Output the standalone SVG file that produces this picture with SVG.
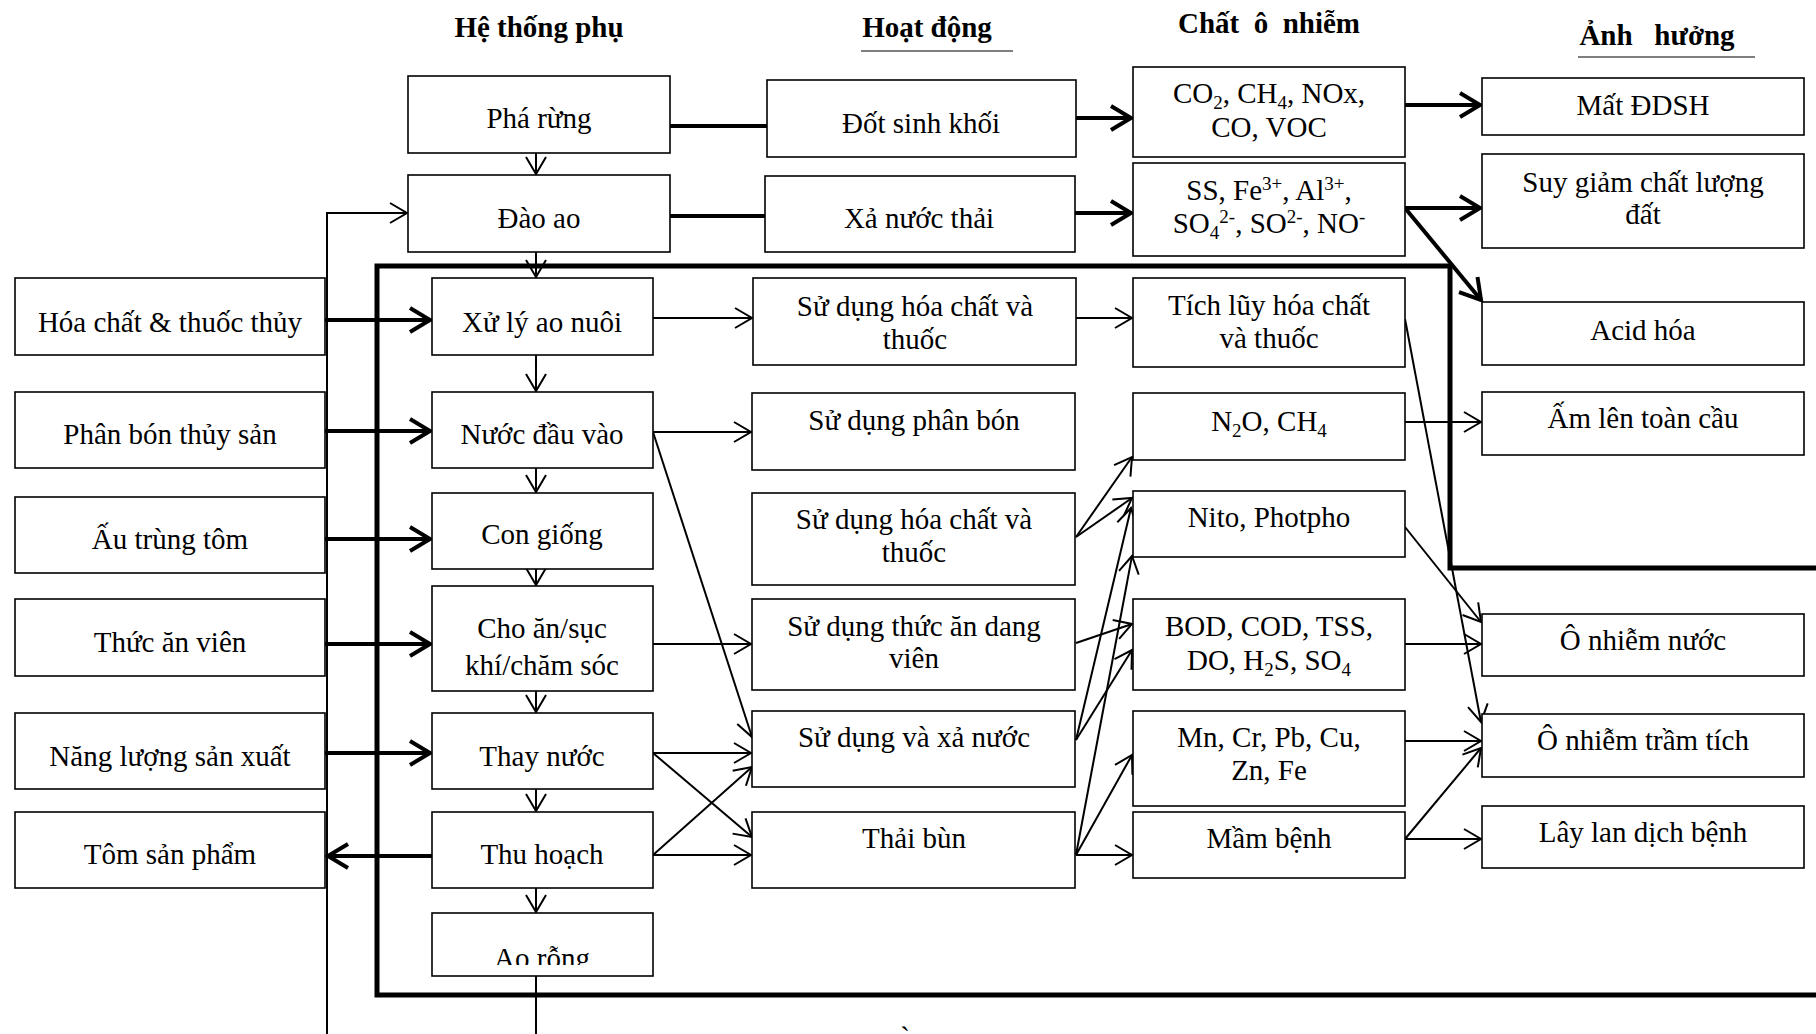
<svg xmlns="http://www.w3.org/2000/svg" width="1816" height="1034" viewBox="0 0 1816 1034">
<style>
.b{fill:#fff;stroke:#000;stroke-width:1.6}
.t{font-family:"Liberation Serif","Times New Roman",serif;font-size:29px;text-anchor:middle;fill:#000}
.h{font-family:"Liberation Serif","Times New Roman",serif;font-size:29px;font-weight:bold;text-anchor:middle;fill:#000;white-space:pre}
.k{fill:none;stroke:#000;stroke-width:4}
.n{fill:none;stroke:#000;stroke-width:2}
.fr{fill:none;stroke:#000;stroke-width:5}
</style>
<defs>
<marker id="ak" markerUnits="userSpaceOnUse" viewBox="-24 -15 28 30" markerWidth="28" markerHeight="30" refX="0" refY="0" orient="auto"><path d="M-20,-12 L0,0 L-20,12" fill="none" stroke="#000" stroke-width="4"/></marker>
<marker id="an" markerUnits="userSpaceOnUse" viewBox="-20 -13 24 26" markerWidth="24" markerHeight="26" refX="0" refY="0" orient="auto"><path d="M-17,-10 L0,0 L-17,10" fill="none" stroke="#000" stroke-width="2"/></marker>
<clipPath id="clipAo"><rect x="432" y="913" width="221" height="52"/></clipPath>
<clipPath id="clipBottom"><rect x="880" y="1020" width="50" height="14"/></clipPath>
</defs>
<rect width="1816" height="1034" fill="#fff"/>

<g id="headers">
<text class="h" x="539" y="37">Hệ thống phụ</text>
<text class="h" x="927" y="37">Hoạt động</text>
<line x1="861" y1="51" x2="1013" y2="51" stroke="#000" stroke-width="1.2"/>
<text class="h" x="1269" y="33">Chất  ô  nhiễm</text>
<text class="h" x="1657" y="45">Ảnh   hưởng</text>
<line x1="1578" y1="57" x2="1755" y2="57" stroke="#000" stroke-width="1.2"/>
</g>

<g id="frame"><path class="fr" d="M1816,568 H1450 V266 H377 V995 H1816"/></g>

<g id="connectors">
<path class="k" d="M670,126 H767"/>
<path class="k" d="M1076,118 H1131" marker-end="url(#ak)"/>
<path class="k" d="M670,216 H765"/>
<path class="k" d="M1075,213 H1131" marker-end="url(#ak)"/>
<path class="k" d="M1405,105 H1480" marker-end="url(#ak)"/>
<path class="k" d="M1405,208 H1480" marker-end="url(#ak)"/>
<path class="k" d="M1405,208 L1481,300" marker-end="url(#ak)"/>
<path class="k" d="M325,320 H430" marker-end="url(#ak)"/>
<path class="k" d="M325,431 H430" marker-end="url(#ak)"/>
<path class="k" d="M325,539 H430" marker-end="url(#ak)"/>
<path class="k" d="M325,644 H430" marker-end="url(#ak)"/>
<path class="k" d="M325,753 H430" marker-end="url(#ak)"/>
<path class="k" d="M432,856 H328" marker-end="url(#ak)"/>

<path class="n" d="M327,1034 V213 H407" marker-end="url(#an)"/>
<path class="n" d="M536,152 V174" marker-end="url(#an)"/>
<path class="n" d="M536,252 V277" marker-end="url(#an)"/>
<path class="n" d="M536,355 V391" marker-end="url(#an)"/>
<path class="n" d="M536,468 V492" marker-end="url(#an)"/>
<path class="n" d="M536,569 V585" marker-end="url(#an)"/>
<path class="n" d="M536,691 V712" marker-end="url(#an)"/>
<path class="n" d="M536,789 V811" marker-end="url(#an)"/>
<path class="n" d="M536,888 V912" marker-end="url(#an)"/>
<path class="n" d="M536,976 V1034"/>

<path class="n" d="M653,318 H752" marker-end="url(#an)"/>
<path class="n" d="M1076,318 H1132" marker-end="url(#an)"/>
<path class="n" d="M653,432 H751" marker-end="url(#an)"/>
<path class="n" d="M653,432 L752,737" marker-end="url(#an)"/>
<path class="n" d="M653,644 H751" marker-end="url(#an)"/>
<path class="n" d="M653,753 H751" marker-end="url(#an)"/>
<path class="n" d="M653,753 L752,837" marker-end="url(#an)"/>
<path class="n" d="M653,855 L752,767" marker-end="url(#an)"/>
<path class="n" d="M653,855 H751" marker-end="url(#an)"/>

<path class="n" d="M1076,537 L1132,457" marker-end="url(#an)"/>
<path class="n" d="M1076,537 L1132,498" marker-end="url(#an)"/>
<path class="n" d="M1076,643 L1132,624" marker-end="url(#an)"/>
<path class="n" d="M1076,740 L1131,508" marker-end="url(#an)"/>
<path class="n" d="M1076,740 L1132,650" marker-end="url(#an)"/>
<path class="n" d="M1076,855 L1132,556" marker-end="url(#an)"/>
<path class="n" d="M1076,855 L1132,755" marker-end="url(#an)"/>
<path class="n" d="M1076,855 H1132" marker-end="url(#an)"/>

<path class="n" d="M1405,319 L1481,722" marker-end="url(#an)"/>
<path class="n" d="M1405,422 H1481" marker-end="url(#an)"/>
<path class="n" d="M1405,527 L1481,622" marker-end="url(#an)"/>
<path class="n" d="M1405,644 H1481" marker-end="url(#an)"/>
<path class="n" d="M1405,741 H1481" marker-end="url(#an)"/>
<path class="n" d="M1405,839 L1481,748" marker-end="url(#an)"/>
<path class="n" d="M1405,839 H1481" marker-end="url(#an)"/>
</g>

<g id="n-hoachat"><rect class="b" x="15" y="278" width="310" height="77"/><text class="t" x="170" y="332">Hóa chất &amp; thuốc thủy</text></g>
<g id="n-phanbon"><rect class="b" x="15" y="392" width="310" height="76"/><text class="t" x="170" y="444">Phân bón thủy sản</text></g>
<g id="n-autrung"><rect class="b" x="15" y="497" width="310" height="76"/><text class="t" x="170" y="549">Ấu trùng tôm</text></g>
<g id="n-thucan"><rect class="b" x="15" y="599" width="310" height="77"/><text class="t" x="170" y="652">Thức ăn viên</text></g>
<g id="n-nangluong"><rect class="b" x="15" y="713" width="310" height="76"/><text class="t" x="170" y="766">Năng lượng sản xuất</text></g>
<g id="n-tomsp"><rect class="b" x="15" y="812" width="310" height="76"/><text class="t" x="170" y="864">Tôm sản phẩm</text></g>

<g id="n-pharung"><rect class="b" x="408" y="76" width="262" height="77"/><text class="t" x="539" y="128">Phá rừng</text></g>
<g id="n-daoao"><rect class="b" x="408" y="175" width="262" height="77"/><text class="t" x="539" y="228">Đào ao</text></g>
<g id="n-xuly"><rect class="b" x="432" y="278" width="221" height="77"/><text class="t" x="542" y="332">Xử lý ao nuôi</text></g>
<g id="n-nuocdauvao"><rect class="b" x="432" y="392" width="221" height="76"/><text class="t" x="542" y="444">Nước đầu vào</text></g>
<g id="n-congiong"><rect class="b" x="432" y="493" width="221" height="76"/><text class="t" x="542" y="544">Con giống</text></g>
<g id="n-choan"><rect class="b" x="432" y="586" width="221" height="105"/><text class="t" x="542" y="638">Cho ăn/sục</text><text class="t" x="542" y="675">khí/chăm sóc</text></g>
<g id="n-thaynuoc"><rect class="b" x="432" y="713" width="221" height="76"/><text class="t" x="542" y="766">Thay nước</text></g>
<g id="n-thuhoach"><rect class="b" x="432" y="812" width="221" height="76"/><text class="t" x="542" y="864">Thu hoạch</text></g>
<g id="n-aorong"><rect class="b" x="432" y="913" width="221" height="63"/><text class="t" x="542" y="968" clip-path="url(#clipAo)">Ao rỗng</text></g>

<g id="n-dotsinhkhoi"><rect class="b" x="767" y="80" width="309" height="77"/><text class="t" x="921" y="133">Đốt sinh khối</text></g>
<g id="n-xanuocthai"><rect class="b" x="765" y="176" width="310" height="76"/><text class="t" x="919" y="228">Xả nước thải</text></g>
<g id="n-sdhc1"><rect class="b" x="753" y="278" width="323" height="87"/><text class="t" x="915" y="316">Sử dụng hóa chất và</text><text class="t" x="915" y="349">thuốc</text></g>
<g id="n-sdpb"><rect class="b" x="752" y="393" width="323" height="77"/><text class="t" x="914" y="430">Sử dụng phân bón</text></g>
<g id="n-sdhc2"><rect class="b" x="752" y="493" width="323" height="92"/><text class="t" x="914" y="529">Sử dụng hóa chất và</text><text class="t" x="914" y="562">thuốc</text></g>
<g id="n-sdta"><rect class="b" x="752" y="599" width="323" height="91"/><text class="t" x="914" y="636">Sử dụng thức ăn dang</text><text class="t" x="914" y="668">viên</text></g>
<g id="n-sdvx"><rect class="b" x="752" y="711" width="323" height="76"/><text class="t" x="914" y="747">Sử dụng và xả nước</text></g>
<g id="n-thaibun"><rect class="b" x="752" y="812" width="323" height="76"/><text class="t" x="914" y="848">Thải bùn</text></g>

<g id="n-co2"><rect class="b" x="1133" y="67" width="272" height="90"/><text class="t" x="1269" y="103">CO<tspan dy="6" font-size="19">2</tspan><tspan dy="-6">, CH</tspan><tspan dy="6" font-size="19">4</tspan><tspan dy="-6">, NOx,</tspan></text><text class="t" x="1269" y="137">CO, VOC</text></g>
<g id="n-ss"><rect class="b" x="1133" y="163" width="272" height="93"/><text class="t" x="1269" y="200">SS, Fe<tspan dy="-10" font-size="19">3+</tspan><tspan dy="10">, Al</tspan><tspan dy="-10" font-size="19">3+</tspan><tspan dy="10">,</tspan></text><text class="t" x="1269" y="233">SO<tspan dy="6" font-size="19">4</tspan><tspan dy="-16" font-size="19">2-</tspan><tspan dy="10">, SO</tspan><tspan dy="-10" font-size="19">2-</tspan><tspan dy="10">, NO</tspan><tspan dy="-10" font-size="19">-</tspan></text></g>
<g id="n-tichluy"><rect class="b" x="1133" y="278" width="272" height="89"/><text class="t" x="1269" y="315">Tích lũy hóa chất</text><text class="t" x="1269" y="348">và thuốc</text></g>
<g id="n-n2o"><rect class="b" x="1133" y="393" width="272" height="67"/><text class="t" x="1269" y="431">N<tspan dy="6" font-size="19">2</tspan><tspan dy="-6">O, CH</tspan><tspan dy="6" font-size="19">4</tspan></text></g>
<g id="n-nito"><rect class="b" x="1133" y="491" width="272" height="66"/><text class="t" x="1269" y="527">Nito, Photpho</text></g>
<g id="n-bod"><rect class="b" x="1133" y="599" width="272" height="91"/><text class="t" x="1269" y="636">BOD, COD, TSS,</text><text class="t" x="1269" y="670">DO, H<tspan dy="6" font-size="19">2</tspan><tspan dy="-6">S, SO</tspan><tspan dy="6" font-size="19">4</tspan></text></g>
<g id="n-mn"><rect class="b" x="1133" y="711" width="272" height="95"/><text class="t" x="1269" y="747">Mn, Cr, Pb, Cu,</text><text class="t" x="1269" y="780">Zn, Fe</text></g>
<g id="n-mambenh"><rect class="b" x="1133" y="812" width="272" height="66"/><text class="t" x="1269" y="848">Mầm bệnh</text></g>

<g id="n-matddsh"><rect class="b" x="1482" y="78" width="322" height="57"/><text class="t" x="1643" y="115">Mất ĐDSH</text></g>
<g id="n-suygiam"><rect class="b" x="1482" y="154" width="322" height="94"/><text class="t" x="1643" y="192">Suy giảm chất lượng</text><text class="t" x="1643" y="224">đất</text></g>
<g id="n-acid"><rect class="b" x="1482" y="302" width="322" height="63"/><text class="t" x="1643" y="340">Acid hóa</text></g>
<g id="n-amlen"><rect class="b" x="1482" y="392" width="322" height="63"/><text class="t" x="1643" y="428">Ấm lên toàn cầu</text></g>
<g id="n-onuoc"><rect class="b" x="1482" y="614" width="322" height="62"/><text class="t" x="1643" y="650">Ô nhiễm nước</text></g>
<g id="n-otramtich"><rect class="b" x="1482" y="714" width="322" height="63"/><text class="t" x="1643" y="750">Ô nhiễm trầm tích</text></g>
<g id="n-laylan"><rect class="b" x="1482" y="806" width="322" height="62"/><text class="t" x="1643" y="842">Lây lan dịch bệnh</text></g>

<text class="t" x="905" y="1047" clip-path="url(#clipBottom)">`</text>
</svg>
